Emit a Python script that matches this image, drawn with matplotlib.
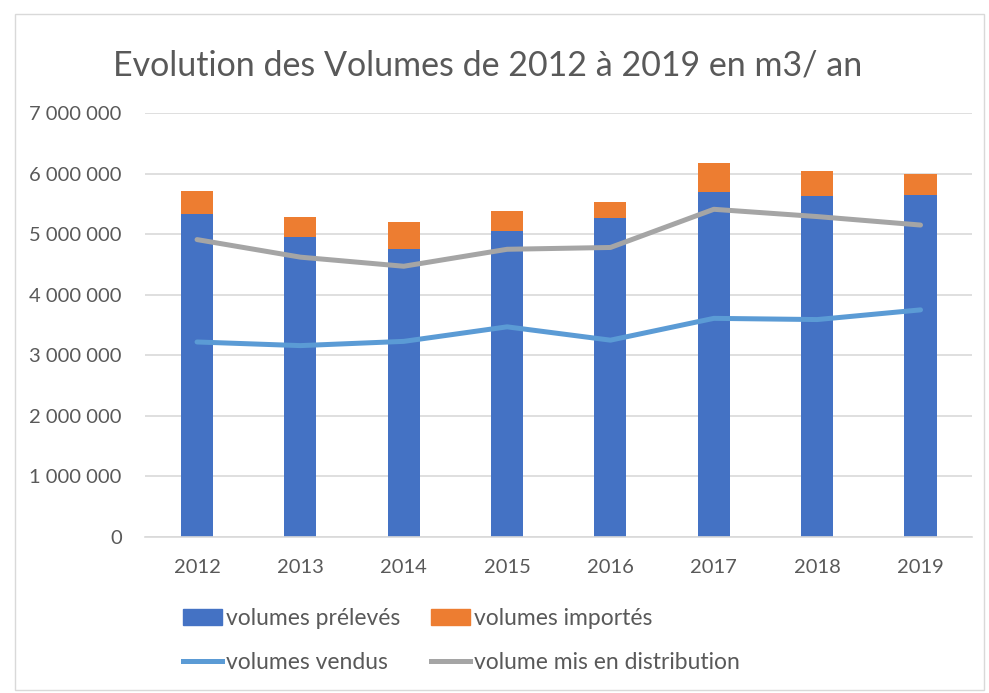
import numpy as np
import matplotlib.pyplot as plt
from matplotlib.patches import Patch, Rectangle
from matplotlib.lines import Line2D
from matplotlib.ticker import FuncFormatter

plt.rcParams['font.family'] = ['Lato', 'DejaVu Sans']

years = ['2012', '2013', '2014', '2015', '2016', '2017', '2018', '2019']
preleves = [5340000, 4955000, 4760000, 5055000, 5270000, 5700000, 5630000, 5650000]
importes = [370000, 325000, 440000, 335000, 260000, 470000, 410000, 350000]
vendus = [3220000, 3160000, 3230000, 3470000, 3250000, 3610000, 3590000, 3750000]
distribution = [4910000, 4620000, 4470000, 4750000, 4780000, 5410000, 5290000, 5150000]

c_blue = '#4472C4'
c_orange = '#ED7D31'
c_lblue = '#5B9BD5'
c_gray = '#A5A5A5'
txt = '#595959'

fig = plt.figure(figsize=(9.89, 6.93), dpi=100)
ax = fig.add_axes([0.147, 0.225, 0.836, 0.612])

x = np.arange(len(years))
ax.bar(x, preleves, width=0.31, color=c_blue, zorder=2)
ax.bar(x, importes, width=0.31, bottom=preleves, color=c_orange, zorder=2)
ax.plot(x, vendus, color=c_lblue, lw=3.6, solid_capstyle='round', zorder=3)
ax.plot(x, distribution, color=c_gray, lw=3.6, solid_capstyle='round', zorder=3)

ax.set_xlim(-0.5, len(years) - 0.5)
ax.set_ylim(0, 7000000)
ax.set_yticks(np.arange(0, 7000001, 1000000))
ax.yaxis.set_major_formatter(FuncFormatter(lambda v, p: f'{int(v):,}'.replace(',', ' ')))
ax.set_xticks(x)
ax.set_xticklabels(years)
ax.grid(axis='y', color='#D9D9D9', lw=1.2, zorder=0)
for s in ['top', 'right', 'left']:
    ax.spines[s].set_visible(False)
ax.spines['bottom'].set_color('#D9D9D9')
ax.spines['bottom'].set_linewidth(1.2)
ax.tick_params(length=0, labelsize=14.5, colors=txt)
ax.tick_params(axis='y', pad=17)
ax.tick_params(axis='x', pad=16)

fig.text(0.493, 0.906, 'Evolution des Volumes de 2012 à 2019 en m3/ an',
         ha='center', va='center', fontsize=24.5, color=txt)

handles = [Patch(color=c_blue), Line2D([], [], color=c_lblue, lw=3.6),
           Patch(color=c_orange), Line2D([], [], color=c_gray, lw=3.6)]
labels = ['volumes prélevés', 'volumes vendus', 'volumes importés', 'volume mis en distribution']
fig.legend(handles, labels, ncol=2, loc='upper left', bbox_to_anchor=(0.185, 0.122),
           frameon=False, fontsize=16.5, labelcolor=txt, handlelength=1.7,
           handletextpad=0.18, columnspacing=1.35, labelspacing=1.0,
           borderpad=0, borderaxespad=0)

fig.add_artist(Rectangle((0.015, 0.005), 0.98, 0.975, transform=fig.transFigure,
                         fill=False, edgecolor='#D9D9D9', lw=1))

fig.savefig('out.png', dpi=100)
